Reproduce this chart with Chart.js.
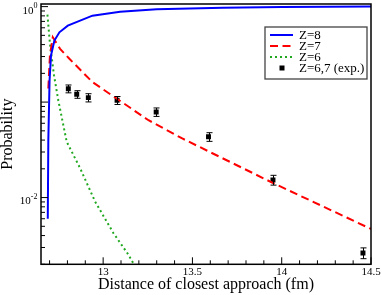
<!DOCTYPE html>
<html>
<head>
<meta charset="utf-8">
<script src="https://cdn.jsdelivr.net/npm/chart.js@4/dist/chart.umd.min.js"></script>
<style>
  html, body { margin: 0; padding: 0; background: #fff; }
  #wrap { width: 382px; height: 295px; }
</style>
</head>
<body>
<div id="wrap"><canvas id="myChart"></canvas></div>
<script>
// values (x in fm, y = probability)
var z8X = [12.690, 12.693, 12.700, 12.708, 12.727, 12.755, 12.802, 12.940, 13.095, 13.30, 13.67, 14.0, 14.5];
var z8Y = [0.0060, 0.040, 0.169, 0.308, 0.441, 0.538, 0.632, 0.804, 0.885, 0.94, 0.975, 0.99, 1.0];

var z7X = [12.693, 12.702, 12.718, 12.736, 12.759, 12.811, 12.940, 13.254, 13.443, 13.955, 14.5];
var z7Y = [0.139, 0.308, 0.477, 0.423, 0.361, 0.284, 0.162, 0.0646, 0.0416, 0.0141, 0.00469];

var z6X = [12.688, 12.702, 12.725, 12.749, 12.796, 12.871, 12.955, 13.057, 13.141, 13.207];
var z6Y = [0.823, 0.41, 0.19, 0.104, 0.0384, 0.0203, 0.00908, 0.00426, 0.00253, 0.00153];

var expX = [12.805, 12.852, 12.917, 13.078, 13.297, 13.590, 13.951, 14.455];
var expY = [0.138, 0.1206, 0.1114, 0.1044, 0.0788, 0.0433, 0.0153, 0.00263];
var expErr = [0.013, 0.011, 0.011, 0.010, 0.008, 0.0045, 0.0018, 0.00034];

var xMajor = [13, 13.5, 14, 14.5];
var xMinor = [12.7, 12.8, 12.9, 13.1, 13.2, 13.3, 13.4, 13.6, 13.7, 13.8, 13.9, 14.1, 14.2, 14.3, 14.4];
var yMajor = [1, 0.1, 0.01];
var yLabels = [[1, '0'], [0.01, '-2']];

var SERIF = "'Liberation Serif', 'Times New Roman', serif";

function pts(xs, ys) {
  return xs.map(function (x, i) { return { x: x, y: ys[i] }; });
}

// frame, inward ticks, y labels with exponents, error bars, boxed legend
var decor = {
  id: 'decor',
  afterDatasetsDraw: function (chart) {
    var ctx = chart.ctx, xs = chart.scales.x, ys = chart.scales.y;
    ctx.save();
    ctx.strokeStyle = '#000';
    ctx.lineWidth = 1;
    expX.forEach(function (x, i) {
      var px = Math.round(xs.getPixelForValue(x)) + 0.5;
      var t = ys.getPixelForValue(expY[i] + expErr[i]);
      var b = ys.getPixelForValue(expY[i] - expErr[i]);
      ctx.beginPath();
      ctx.moveTo(px, t); ctx.lineTo(px, b);
      ctx.moveTo(px - 3, t); ctx.lineTo(px + 3, t);
      ctx.moveTo(px - 3, b); ctx.lineTo(px + 3, b);
      ctx.stroke();
    });
    ctx.restore();
  },
  afterDraw: function (chart) {
    var ctx = chart.ctx, a = chart.chartArea;
    var xs = chart.scales.x, ys = chart.scales.y;
    ctx.save();
    ctx.strokeStyle = '#000';
    ctx.lineWidth = 1;

    // x ticks, pointing up into the plot
    ctx.beginPath();
    xMajor.forEach(function (v) {
      var p = xs.getPixelForValue(v);
      ctx.moveTo(p, a.bottom); ctx.lineTo(p, a.bottom - 7);
    });
    xMinor.forEach(function (v) {
      var p = xs.getPixelForValue(v);
      ctx.moveTo(p, a.bottom); ctx.lineTo(p, a.bottom - 4);
    });
    // y ticks (log), pointing right into the plot
    yMajor.forEach(function (v) {
      var p = ys.getPixelForValue(v);
      ctx.moveTo(a.left, p); ctx.lineTo(a.left + 7, p);
    });
    [0.001, 0.01, 0.1].forEach(function (dec) {
      for (var k = 2; k <= 9; k++) {
        var v = dec * k;
        if (v < ys.min || v > ys.max) continue;
        var p = ys.getPixelForValue(v);
        ctx.moveTo(a.left, p); ctx.lineTo(a.left + 4, p);
      }
    });
    ctx.stroke();

    // frame
    ctx.lineWidth = 1.5;
    ctx.strokeRect(a.left, a.top, a.right - a.left, a.bottom - a.top);

    // y tick labels 10^n
    ctx.fillStyle = '#000';
    ctx.textBaseline = 'middle';
    yLabels.forEach(function (l) {
      var p = ys.getPixelForValue(l[0]);
      ctx.font = '8px ' + SERIF;
      var sw = ctx.measureText(l[1]).width;
      var right = a.left - 3.5;
      ctx.textAlign = 'left';
      ctx.fillText(l[1], right - sw, p - 1);
      ctx.font = '11px ' + SERIF;
      ctx.textAlign = 'right';
      ctx.fillText('10', right - sw, p + 4);
    });

    // legend box
    var bx = 265, by = 27, bw = 102, bh = 52;
    ctx.fillStyle = '#fff';
    ctx.fillRect(bx, by, bw, bh);
    ctx.strokeStyle = '#444';
    ctx.lineWidth = 1.3;
    ctx.strokeRect(bx, by, bw, bh);
    var rows = [35, 46, 57, 68];
    ctx.font = '13px ' + SERIF;
    ctx.textAlign = 'left';
    chart.data.datasets.forEach(function (ds, i) {
      var y = rows[i];
      ctx.save();
      if (ds.showLine) {
        ctx.strokeStyle = ds.borderColor;
        ctx.lineWidth = ds.borderWidth;
        ctx.setLineDash(ds.borderDash || []);
        ctx.beginPath();
        ctx.moveTo(270, y); ctx.lineTo(293, y);
        ctx.stroke();
      } else {
        ctx.fillStyle = ds.backgroundColor;
        ctx.fillRect(279.5, y - 2.5, 5, 5);
      }
      ctx.restore();
      ctx.fillStyle = '#000';
      ctx.fillText(ds.label, 299, y + 0.5);
    });
    ctx.restore();
  }
};

var ctx = document.getElementById('myChart').getContext('2d');
var chart = new Chart(ctx, {
  type: 'scatter',
  data: {
    datasets: [
      {
        label: 'Z=8',
        data: pts(z8X, z8Y),
        showLine: true,
        borderColor: '#0000ff',
        backgroundColor: '#0000ff',
        borderWidth: 2,
        pointRadius: 0
      },
      {
        label: 'Z=7',
        data: pts(z7X, z7Y),
        showLine: true,
        borderColor: '#ff0000',
        backgroundColor: '#ff0000',
        borderWidth: 2,
        borderDash: [8, 4.5],
        pointRadius: 0
      },
      {
        label: 'Z=6',
        data: pts(z6X, z6Y),
        showLine: true,
        borderColor: '#1fa81f',
        backgroundColor: '#1fa81f',
        borderWidth: 2,
        borderDash: [2, 3],
        pointRadius: 0
      },
      {
        label: 'Z=6,7 (exp.)',
        data: pts(expX, expY),
        showLine: false,
        pointStyle: 'rect',
        pointRadius: 3.5,
        borderWidth: 0,
        backgroundColor: '#000',
        borderColor: '#000'
      }
    ]
  },
  options: {
    responsive: true,
    maintainAspectRatio: false,
    animation: false,
    layout: { padding: { top: 3.3, right: 11, left: 0, bottom: 0 } },
    plugins: { legend: { display: false }, tooltip: { enabled: false } },
    scales: {
      x: {
        type: 'linear',
        min: 12.652,
        max: 14.5,
        grid: { display: false, drawTicks: false },
        border: { display: false },
        afterBuildTicks: function (s) {
          s.ticks = xMajor.map(function (v) { return { value: v }; });
        },
        afterFit: function (s) { s.height = 30.7; },
        ticks: {
          padding: 1,
          maxRotation: 0,
          color: '#000',
          font: { family: SERIF, size: 11 },
          callback: function (v) { return String(v); }
        },
        title: {
          display: true,
          text: 'Distance of closest approach (fm)',
          color: '#000',
          font: { family: SERIF, size: 16, lineHeight: 1 },
          padding: { top: 0, bottom: 2 }
        }
      },
      y: {
        type: 'logarithmic',
        min: 0.002,
        max: 1.065,
        bounds: 'data',
        grid: { display: false, drawTicks: false },
        border: { display: false },
        ticks: { display: false },
        afterFit: function (s) { s.width = 41; },
        title: {
          display: true,
          text: 'Probability',
          color: '#000',
          font: { family: SERIF, size: 16, lineHeight: 1 },
          padding: { top: 0, bottom: 0 }
        }
      }
    }
  },
  plugins: [decor]
});
</script>
</body>
</html>
